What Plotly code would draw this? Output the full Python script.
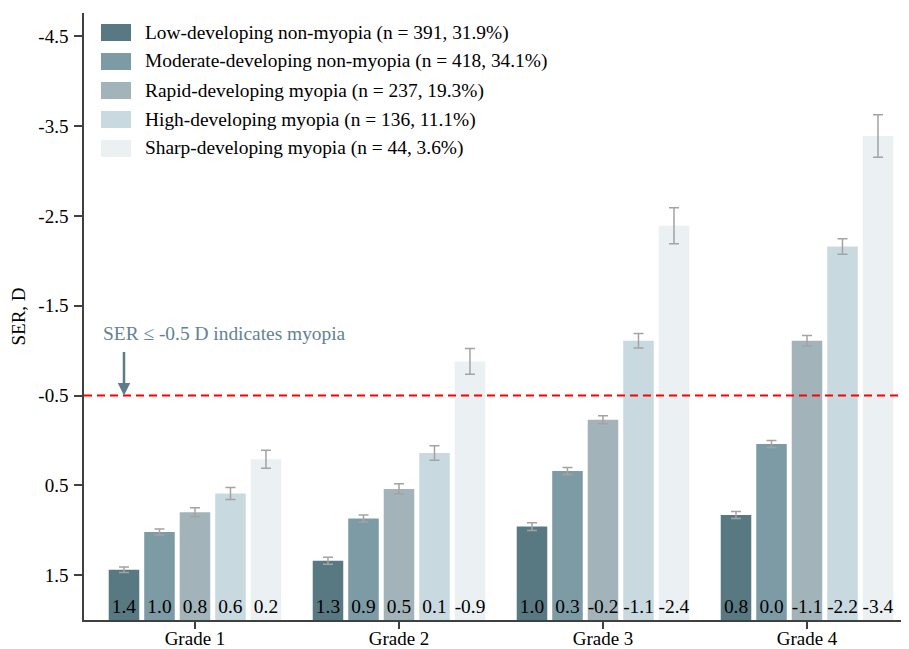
import plotly.graph_objects as go

# ---------------- data ----------------
grades = ["Grade 1", "Grade 2", "Grade 3", "Grade 4"]
series_names = [
    "Low-developing non-myopia (n = 391, 31.9%)",
    "Moderate-developing non-myopia (n = 418, 34.1%)",
    "Rapid-developing myopia (n = 237, 19.3%)",
    "High-developing myopia (n = 136, 11.1%)",
    "Sharp-developing myopia (n = 44, 3.6%)",
]
low_vals = [1.44, 1.34, 0.96, 0.83]
moderate_vals = [1.02, 0.87, 0.34, 0.04]
rapid_vals = [0.80, 0.54, -0.23, -1.11]
high_vals = [0.59, 0.14, -1.11, -2.16]
sharp_vals = [0.21, -0.88, -2.39, -3.39]

low_err = [0.031, 0.039, 0.042, 0.039]
moderate_err = [0.033, 0.039, 0.039, 0.039]
rapid_err = [0.050, 0.056, 0.044, 0.059]
high_err = [0.067, 0.080, 0.081, 0.087]
sharp_err = [0.100, 0.143, 0.200, 0.237]

ytick_vals = [1.5, 0.5, -0.5, -1.5, -2.5, -3.5, -4.5]
ytick_text = ["1.5", "0.5", "-0.5", "-1.5", "-2.5", "-3.5", "-4.5"]
myopia_threshold = -0.5
annotation_text = "SER \u2264 -0.5 D indicates myopia"

# ---------------- style ----------------
colors = ["#587882", "#7d9ba5", "#a2b4b9", "#c8d9e0", "#ebf0f3"]
FONT = "Liberation Serif"
BASE = 2.0
OFF = 8  # default page body margin
W, H = 909 - OFF, 649 - OFF
ML, MR, MT, MB = 84 - OFF, 0, 13 - OFF, 29
PW, PH = W - ML - MR, H - MT - MB

all_vals = [low_vals, moderate_vals, rapid_vals, high_vals, sharp_vals]
all_errs = [low_err, moderate_err, rapid_err, high_err, sharp_err]

fig = go.Figure()
for name, vals, errs, col in zip(series_names, all_vals, all_errs, colors):
    fig.add_trace(go.Bar(
        x=grades,
        y=[v - BASE for v in vals],
        base=BASE,
        name=name,
        marker=dict(color=col, line=dict(width=0)),
        error_y=dict(type="data", array=errs, color="#a3a3a3", thickness=1.5, width=5),
        text=[f"{v:.1f}" for v in vals],
        textposition="inside",
        insidetextanchor="start",
        constraintext="none",
        textangle=0,
        insidetextfont=dict(family=FONT, size=19.4, color="black"),
        showlegend=False,
    ))

# screen pixel -> paper coordinates
def px_to_paper_x(px):
    return (px - OFF - ML) / PW

def px_to_paper_y(py):
    return (H - MB - (py - OFF)) / PH

shapes = [dict(type="line", xref="paper", x0=0, x1=1, yref="y",
               y0=myopia_threshold, y1=myopia_threshold,
               line=dict(color="red", width=2, dash="8px,5px"), layer="above")]
annotations = []

# custom legend
row_centers = [32.5, 61.5, 90.5, 119.5, 148.5]
for name, col, cy in zip(series_names, colors, row_centers):
    shapes.append(dict(type="rect", xref="paper", yref="paper",
                       x0=px_to_paper_x(101), x1=px_to_paper_x(131),
                       y0=px_to_paper_y(cy + 8.5), y1=px_to_paper_y(cy - 8.5),
                       fillcolor=col, line=dict(width=0)))
    annotations.append(dict(xref="paper", yref="paper",
                            x=px_to_paper_x(143), y=px_to_paper_y(cy),
                            xanchor="left", yanchor="middle", showarrow=False,
                            text=name, font=dict(family=FONT, size=19.4, color="black")))

# myopia annotation
annotations.append(dict(xref="paper", yref="paper", x=px_to_paper_x(101), y=px_to_paper_y(333),
                        xanchor="left", yanchor="middle", showarrow=False,
                        text=annotation_text, font=dict(family=FONT, size=19.4, color="#628391")))
annotations.append(dict(xref="x", yref="y", x=-0.348, y=myopia_threshold,
                        ax=0, ay=-45, text="", showarrow=True,
                        arrowhead=2, arrowsize=1, arrowwidth=2.5, arrowcolor="#5b7c88"))

fig.update_layout(
    width=W, height=H,
    margin=dict(l=ML, r=MR, t=MT, b=MB, pad=0, autoexpand=False),
    paper_bgcolor="white", plot_bgcolor="white",
    barmode="group", bargap=0.13, bargroupgap=0.14,
    font=dict(family=FONT, size=19, color="black"),
    shapes=shapes, annotations=annotations,
    showlegend=False,
)
fig.update_xaxes(range=[-0.544, 3.5], showline=True, linecolor="#404040", linewidth=1.5,
                 ticks="outside", ticklen=7, tickwidth=1.5, tickcolor="#404040",
                 showgrid=False, zeroline=False, automargin=False, ticklabelstandoff=-7,
                 tickfont=dict(family=FONT, size=19, color="black"))
fig.update_yaxes(range=[BASE, -4.76], showline=True, linecolor="#404040", linewidth=1.5,
                 ticks="outside", ticklen=8, tickwidth=1.5, tickcolor="#404040",
                 tickvals=ytick_vals, ticktext=ytick_text,
                 showgrid=False, zeroline=False, automargin=False, ticklabelstandoff=2,
                 title=dict(text="SER, D", font=dict(family=FONT, size=19, color="black"), standoff=8),
                 tickfont=dict(family=FONT, size=19, color="black"))

fig.write_html("out.html")
